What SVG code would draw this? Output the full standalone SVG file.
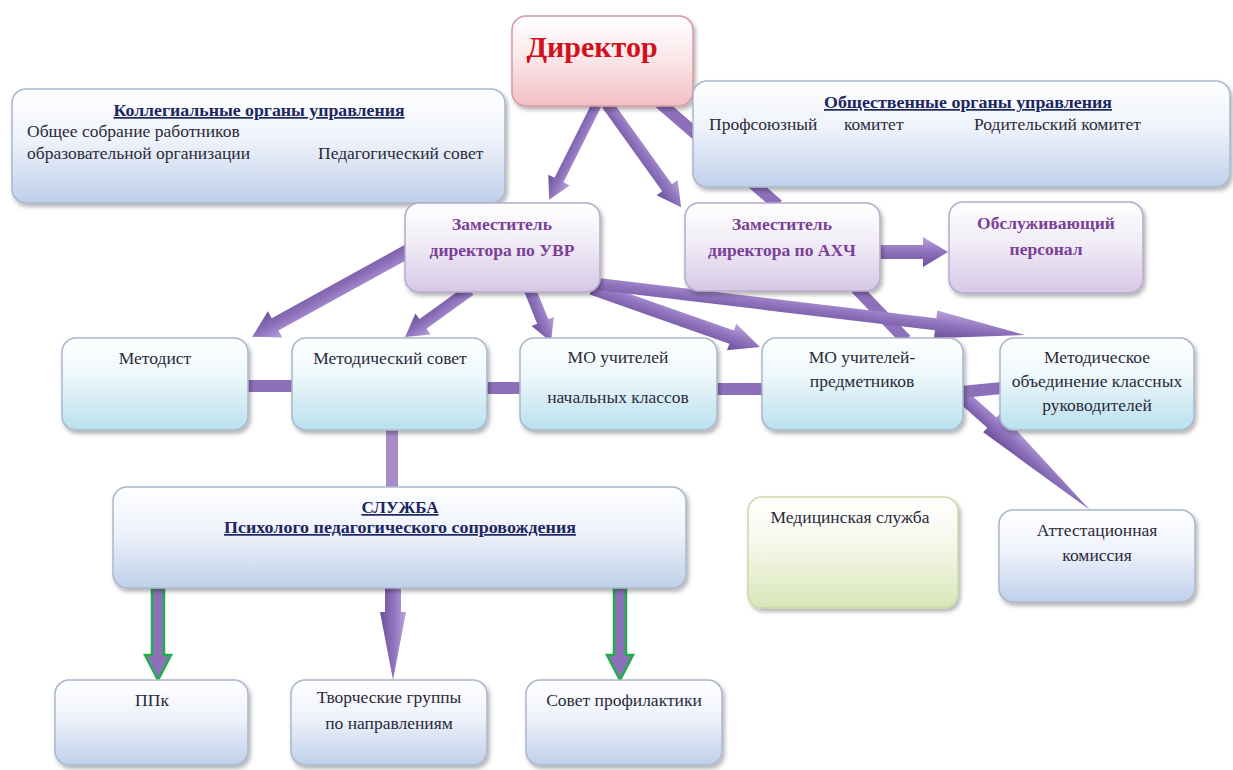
<svg xmlns="http://www.w3.org/2000/svg" width="1233" height="770" viewBox="0 0 1233 770">
<defs>
<linearGradient id="gBlue" x1="0" y1="0" x2="0" y2="1"><stop offset="0" stop-color="#ffffff"/><stop offset="0.45" stop-color="#eef2fa"/><stop offset="1" stop-color="#bfd0ea"/></linearGradient>
<linearGradient id="gCyan" x1="0" y1="0" x2="0" y2="1"><stop offset="0" stop-color="#ffffff"/><stop offset="0.4" stop-color="#eef8fb"/><stop offset="1" stop-color="#b9e0ee"/></linearGradient>
<linearGradient id="gPurp" x1="0" y1="0" x2="0" y2="1"><stop offset="0" stop-color="#ffffff"/><stop offset="0.45" stop-color="#f1ecf6"/><stop offset="1" stop-color="#d6c8e6"/></linearGradient>
<linearGradient id="gPink" x1="0" y1="0" x2="0" y2="1"><stop offset="0" stop-color="#ffffff"/><stop offset="0.45" stop-color="#fbe9eb"/><stop offset="1" stop-color="#f1bfc5"/></linearGradient>
<linearGradient id="gGreen" x1="0" y1="0" x2="0" y2="1"><stop offset="0" stop-color="#ffffff"/><stop offset="0.4" stop-color="#f6f8ec"/><stop offset="1" stop-color="#d9e6b8"/></linearGradient>
<linearGradient id="gArrow" x1="0" y1="0" x2="0" y2="1"><stop offset="0" stop-color="#b9a4d9"/><stop offset="0.45" stop-color="#9275bf"/><stop offset="1" stop-color="#6c5099"/></linearGradient>
<filter id="sh" x="-10%" y="-10%" width="120%" height="130%"><feDropShadow dx="2" dy="3" stdDeviation="2" flood-color="#000" flood-opacity="0.3"/></filter>
<style>
text{font-family:"Liberation Serif","Times New Roman","DejaVu Serif",serif}
.box{stroke:#a9b7cc;stroke-width:1.5;filter:url(#sh)}
.blue{fill:url(#gBlue)}
.cyan{fill:url(#gCyan)}
.purp{fill:url(#gPurp);stroke:#b8a9cc}
.pink{fill:url(#gPink);stroke:#d79aa2}
.green{fill:url(#gGreen);stroke:#cdd7a8}
.t{font-size:17.5px;fill:#2a2a3a}
.c{text-anchor:middle}
.ttl{font-size:17px;font-weight:bold;fill:#1c2660;text-decoration:underline;text-anchor:middle}
.pt{font-size:17.5px;font-weight:bold;fill:#7a3f97;text-anchor:middle}
.dir{font-size:30px;font-weight:bold;fill:#d3111c;text-anchor:middle}
.arr{fill:url(#gArrow)}
.band{stroke:#8e70ba;stroke-width:12;fill:none}
.garr{fill:#8e70ba;stroke:#1fae4a;stroke-width:2.5;stroke-linejoin:miter}
</style>
</defs>
<rect width="1233" height="770" fill="#ffffff"/>

<g id="connectors">
<line class="band" x1="660" y1="103" x2="778" y2="205"/>
<line class="band" x1="856" y1="288" x2="906" y2="340"/>
<polygon class="arr" transform="translate(597,104) rotate(116.57)" points="0,-5 85,-5 85,-12 107,0 85,12 85,5 0,5"/>
<polygon class="arr" transform="translate(607,104) rotate(54.3)" points="0,-6 103,-6 103,-13 127,0 103,13 103,6 0,6"/>
<polygon class="arr" transform="translate(880,252) rotate(0)" points="0,-7 43,-7 43,-15 68,0 43,15 43,7 0,7"/>
<polygon class="arr" transform="translate(410,250) rotate(151.16)" points="0,-7 154,-7 154,-15 180,0 154,15 154,7 0,7"/>
<polygon class="arr" transform="translate(470,290) rotate(144.13)" points="0,-6 58,-6 58,-13 80,0 58,13 58,6 0,6"/>
<polygon class="arr" transform="translate(530,290) rotate(68)" points="0,-6 34,-6 34,-12 56,0 34,12 34,6 0,6"/>
<polygon class="arr" transform="translate(592,288) rotate(19.35)" points="0,-7 148,-7 148,-14 178,0 148,14 148,7 0,7"/>
<polygon class="arr" transform="translate(598,284) rotate(6.81)" points="0,-6 340,-6 340,-14 430,0 340,14 340,6 0,6"/>
<polygon class="arr" transform="translate(962,396) rotate(41.69)" points="0,-7 40,-7 40,-13 171,0 40,13 40,7 0,7"/>
<line class="band" x1="246" y1="386" x2="294" y2="386"/>
<line class="band" x1="485" y1="388" x2="522" y2="388"/>
<line class="band" x1="715" y1="389" x2="764" y2="389"/>
<line class="band" x1="961" y1="392" x2="1002" y2="388"/>
<line x1="392" y1="430" x2="392" y2="488" stroke="#a78bc6" stroke-width="12"/>
<polygon class="arr" transform="translate(393,588) rotate(90)" points="0,-8 24,-8 24,-13 92,0 24,13 24,8 0,8"/>
<polygon class="garr" points="152,588 164,588 164,655 171,655 158,680 145,655 152,655"/>
<polygon class="garr" points="614,588 626,588 626,655 633,655 620,680 607,655 614,655"/>
</g>

<g id="director">
<rect class="box pink" x="512" y="16" width="181" height="90" rx="14"/>
<text class="dir" x="592" y="57">Директор</text>
</g>

<g id="collegial">
<rect class="box blue" x="12" y="89" width="493" height="114" rx="14"/>
<text class="ttl" x="259" y="116" textLength="291" lengthAdjust="spacingAndGlyphs">Коллегиальные органы управления</text>
<text class="t" x="27" y="137">Общее собрание работников</text>
<text class="t" x="27" y="159">образовательной организации</text>
<text class="t" x="318" y="159">Педагогический совет</text>
</g>

<g id="public">
<rect class="box blue" x="693" y="81" width="537" height="106" rx="14"/>
<text class="ttl" x="968" y="108" textLength="288" lengthAdjust="spacingAndGlyphs">Общественные органы управления</text>
<text class="t" x="709" y="130">Профсоюзный</text>
<text class="t" x="844" y="130">комитет</text>
<text class="t" x="974" y="130">Родительский комитет</text>
</g>

<g id="deputy-uvr">
<rect class="box purp" x="405" y="203" width="195" height="89" rx="14"/>
<text class="pt" x="502" y="230">Заместитель</text>
<text class="pt" x="502" y="256">директора по УВР</text>
</g>

<g id="deputy-ahch">
<rect class="box purp" x="685" y="203" width="195" height="88" rx="14"/>
<text class="pt" x="782" y="230">Заместитель</text>
<text class="pt" x="782" y="256">директора по АХЧ</text>
</g>

<g id="staff">
<rect class="box purp" x="949" y="202" width="194" height="91" rx="14"/>
<text class="pt" x="1046" y="229">Обслуживающий</text>
<text class="pt" x="1046" y="255">персонал</text>
</g>

<g id="methodist">
<rect class="box cyan" x="62" y="338" width="186" height="92" rx="14"/>
<text class="t c" x="155" y="364">Методист</text>
</g>

<g id="method-council">
<rect class="box cyan" x="292" y="338" width="195" height="92" rx="14"/>
<text class="t c" x="390" y="364">Методический совет</text>
</g>

<g id="mo-primary">
<rect class="box cyan" x="520" y="338" width="197" height="92" rx="14"/>
<text class="t c" x="618" y="363">МО учителей</text>
<text class="t c" x="618" y="403">начальных классов</text>
</g>

<g id="mo-subject">
<rect class="box cyan" x="762" y="338" width="201" height="92" rx="14"/>
<text class="t c" x="862" y="363">МО учителей-</text>
<text class="t c" x="862" y="387">предметников</text>
</g>

<g id="mo-class">
<rect class="box cyan" x="1000" y="338" width="194" height="92" rx="14"/>
<text class="t c" x="1097" y="363">Методическое</text>
<text class="t c" x="1097" y="387">объединение классных</text>
<text class="t c" x="1097" y="411">руководителей</text>
</g>

<g id="service">
<rect class="box blue" x="113" y="487" width="573" height="101" rx="14"/>
<text class="ttl" x="400" y="513">СЛУЖБА</text>
<text class="ttl" x="400" y="533" textLength="352" lengthAdjust="spacingAndGlyphs">Психолого педагогического сопровождения</text>
</g>

<g id="medical">
<rect class="box green" x="748" y="497" width="210" height="111" rx="14"/>
<text class="t c" x="850" y="523">Медицинская служба</text>
</g>

<g id="attestation">
<rect class="box blue" x="999" y="510" width="196" height="92" rx="14"/>
<text class="t c" x="1097" y="536">Аттестационная</text>
<text class="t c" x="1097" y="561">комиссия</text>
</g>

<g id="ppk">
<rect class="box blue" x="55" y="680" width="193" height="85" rx="14"/>
<text class="t c" x="152" y="706">ППк</text>
</g>

<g id="creative">
<rect class="box blue" x="291" y="680" width="196" height="85" rx="14"/>
<text class="t c" x="389" y="703">Творческие группы</text>
<text class="t c" x="389" y="729">по направлениям</text>
</g>

<g id="prevention">
<rect class="box blue" x="526" y="680" width="196" height="85" rx="14"/>
<text class="t c" x="624" y="706">Совет профилактики</text>
</g>
</svg>
